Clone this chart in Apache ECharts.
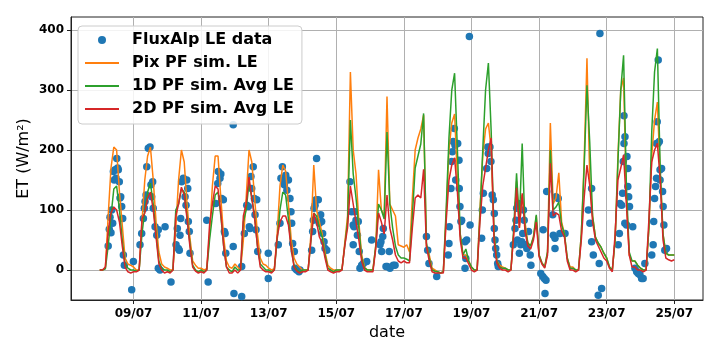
<!DOCTYPE html>
<html><head><meta charset="utf-8">
<script src="https://cdn.jsdelivr.net/npm/echarts@6/dist/echarts.min.js"></script>
<style>html,body{margin:0;padding:0;background:#fff}#c{width:720px;height:356px}</style>
</head><body><div id="c"></div>
<script>
// hours since 08/07 00:00; line series sampled every 2 hours
const stepHours = 2;
const tickHours = [24, 72, 120, 168, 216, 264, 312, 360, 408];
const tickLabels = ['09/07', '11/07', '13/07', '15/07', '17/07', '19/07', '21/07', '23/07', '25/07'];
const yTicks = [0, 100, 200, 300, 400];

const pixLE = [
0,0,3,90,170,205,200,130,75,20,10,8,
5,0,0,80,150,190,205,150,80,30,10,5,
3,0,0,70,150,200,180,110,55,15,8,3,
3,0,2,60,140,190,190,120,55,15,5,3,
10,5,0,50,120,200,180,120,60,20,10,8,
3,0,2,60,140,175,165,110,50,20,10,5,
0,0,0,60,175,100,80,60,30,8,3,0,
0,0,0,45,90,330,200,160,80,25,5,0,
0,0,40,167,100,90,289,110,100,90,42,40,
38,42,30,120,200,220,235,258,40,25,3,0,
-3,-5,-3,90,200,245,260,150,60,25,25,15,
5,0,0,100,190,235,245,200,60,15,8,5,
3,0,0,60,148,70,125,80,45,40,55,90,
25,12,5,30,245,110,120,162,80,60,20,5,
5,0,0,60,180,353,150,90,55,45,38,28,
20,5,0,50,190,300,320,120,25,15,15,8,
3,0,0,70,190,250,280,160,60,28,25,25,
25];

const pf1dLE = [
0,0,2,40,90,135,140,100,50,10,3,0,
0,-2,0,60,100,130,145,110,60,15,3,0,
0,-3,0,100,110,135,130,90,45,8,0,-3,
0,-3,0,50,90,125,130,90,40,5,0,-3,
5,0,0,80,100,145,120,90,40,10,5,0,
0,-3,0,50,100,130,125,85,35,8,0,-3,
0,0,0,50,95,90,70,55,25,3,0,-3,
0,0,0,40,80,250,160,120,70,20,3,0,
0,0,40,110,100,85,230,110,70,40,25,20,
20,18,15,90,170,190,210,261,45,20,0,-2,
-3,-5,-3,100,220,300,328,200,60,25,35,15,
5,0,0,90,200,300,345,230,60,15,5,3,
3,0,0,70,161,80,211,70,45,40,55,92,
25,12,5,30,200,100,105,113,75,60,20,3,
3,0,0,60,170,308,211,90,55,45,38,28,
20,5,0,50,180,300,358,140,30,15,15,8,
3,0,0,70,230,330,369,170,60,28,25,25,
25];

const pf2dLE = [
0,0,5,65,95,105,100,80,40,5,-3,-5,
-3,-3,0,85,95,120,130,100,55,10,0,-5,
-3,-5,0,90,110,138,125,85,40,5,-2,-5,
-3,-5,0,75,110,140,135,95,40,5,-5,-5,
0,-5,0,90,110,155,120,85,40,5,0,-3,
-3,-5,0,55,80,90,90,75,35,5,-2,-5,
-3,-3,0,50,95,80,55,45,20,0,-3,-5,
-3,-3,0,40,70,140,110,80,50,15,0,-3,
-3,-3,35,95,80,60,125,70,50,25,15,12,
15,12,12,70,120,125,120,168,40,15,-3,-5,
-5,-5,-5,80,150,175,187,130,50,20,20,10,
0,-3,0,80,140,170,200,220,50,12,3,0,
0,-3,0,60,137,70,128,65,40,35,50,80,
22,10,3,25,178,90,95,92,65,55,15,0,
0,-3,0,50,120,175,140,80,50,40,30,20,
15,3,-3,60,150,170,192,110,25,5,5,0,
0,-3,0,85,180,200,211,150,50,20,17,15,
17];

const obsHours = [
6,6.8,7.3,8,8.5,9.2,9.7,10.3,10.9,11.6,12.1,12.7,13.2,13.9,14.4,14.9,15.6,16.3,16.8,17.5,22.7,23.9,
28.6,29.8,31,31.7,32.2,32.9,33.4,34.5,35.7,36.4,36.9,37.6,38,39.3,40.5,41.6,41.6,42.8,46.4,50.6,
54.2,55.1,55.8,56.5,57,57.5,58.2,59.4,60.6,61.3,61.8,62.5,62.9,63.6,64.1,
76,77,82.4,83.8,84.2,85.4,86,86.6,87.8,88.5,89,89.5,94.8,94.8,95.3,
100.8,100.8,102.7,104.4,105.5,106.2,106.7,107.4,107.9,109,109.8,110.3,111,111.5,112.2,119.7,119.7,
126.8,128,128.7,129.7,130.4,131.1,132.1,132.9,134,135.1,135.8,136.3,137,138.2,138.7,139.9,141.5,142.2,
150.5,151.2,151.7,152.2,152.9,153.6,154,155.2,155.9,156.9,157.6,158.3,159.3,160,161.2,
177.7,178.9,180,180,180.6,181.3,182,183,183.6,184.3,184.8,186,187.2,189.6,193.1,
199,199.7,200.2,201,201.4,203.3,204.2,205.6,206.1,208.5,209.7,
232,232.9,233.8,239.3,
247.5,248,248.2,249.4,249.9,250.4,251,251.8,252.3,252.8,254.2,255.1,255.3,255.8,256.5,257,259.4,259.4,260,260.6,262.5,263,
271.2,271.7,272.4,274.8,275.5,275.9,277.1,277.8,278.7,279.5,280.2,280.2,280.7,281.2,281.9,282.6,283,
293.7,294.9,295.6,296.1,296.6,297.3,298,299,299.7,300.4,300.9,301.4,302.1,303.3,304.5,305.7,306.2,313.2,314.6,314.9,315.7,316.2,316.9,
317.4,321.7,322.1,323.3,323.3,324,325.6,326.8,330.4,
347,348.1,349.3,349.3,350.5,354,354.7,355.2,356.4,
368.2,369,369.4,370.6,371.3,371.8,372.3,372.3,373,374.4,375,375,375.6,376.2,372.9,374.1,378.5,380.1,381.3,382.4,383.6,384.8,385.9,387.1,
392,393,393.4,394,394.7,395.4,395.4,395.9,396.4,396.6,397.4,397.9,397.9,399,399.7,400.1,400.6,401.3,402.5
];
const obsLE = [
40,68,88,62,100,78,164,150,167,153,186,170,167,147,120,122,106,86,25,8,-33,14,
42,61,86,103,114,125,172,203,205,142,122,147,103,72,58,67,3,0,72,-20,
42,69,36,33,58,86,147,153,122,108,150,136,81,64,28,
83,-20,111,144,164,153,160,119,117,64,61,28,242,39,-39,
-44,6,61,108,106,72,69,156,136,172,119,92,67,117,31,28,-14,
42,78,153,172,150,142,158,133,150,119,97,78,44,31,3,0,-3,0,
33,64,83,103,108,117,186,117,78,92,81,61,47,36,33,
147,97,75,42,72,97,83,58,81,31,3,8,11,14,50,
42,47,31,56,69,6,6,31,3,8,8,
56,33,11,-11,
25,44,72,136,181,197,214,236,208,150,211,183,136,106,81,83,47,3,19,50,389,75,
53,100,128,169,205,194,205,181,125,117,94,69,50,36,25,11,6,
42,69,83,103,50,111,28,42,47,61,100,83,42,36,64,25,8,-6,-11,67,-14,-39,-17,
131,92,58,53,36,122,119,61,61,
100,78,136,47,25,-42,11,394,-31,
42,61,111,108,128,181,257,211,222,189,169,139,122,106,78,75,72,3,-3,-6,-8,-14,-14,11,
25,42,81,119,139,153,211,247,211,350,214,167,150,169,131,106,75,33,36
];

const toPairs = arr => arr.map((v, i) => [i * stepHours, v]);
const obsData = obsHours.map((h, i) => [h, obsLE[i]]);

const FONT = 'DejaVu Sans';
const lineLegend = name => ({name: name, itemStyle: {opacity: 0}});
const chart = echarts.init(document.getElementById('c'), null, {renderer: 'canvas'});
chart.setOption({
  animation: false,
  backgroundColor: '#ffffff',
  grid: {left: 71, top: 17, right: 17, bottom: 56, show: true, borderColor: '#222', borderWidth: 1, backgroundColor: 'transparent'},
  xAxis: {
    type: 'value', min: -20.4, max: 428.4,
    name: 'date', nameLocation: 'middle', nameGap: 25, nameMoveOverlap: false,
    nameTextStyle: {fontFamily: FONT, fontSize: 16, color: '#000'},
    axisLine: {show: true, onZero: false, lineStyle: {color: '#222', width: 1}},
    axisTick: {show: true, length: 4, lineStyle: {color: '#222'}, customValues: tickHours},
    axisLabel: {customValues: tickHours, fontFamily: FONT, fontWeight: 'bold', fontSize: 12, color: '#000', margin: 8,
      formatter: v => { const i = tickHours.indexOf(Math.round(v)); return i >= 0 ? tickLabels[i] : ''; }},
    splitLine: {show: true, lineStyle: {color: '#b0b0b0', width: 1}}
  },
  yAxis: {
    type: 'value', min: -50, max: 421.7,
    name: 'ET (W/m²)', nameLocation: 'middle', nameGap: 39, nameRotate: 90, nameMoveOverlap: false,
    nameTextStyle: {fontFamily: FONT, fontSize: 16, color: '#000'},
    axisLine: {show: true, onZero: false, lineStyle: {color: '#222', width: 1}},
    axisTick: {show: true, length: 4, lineStyle: {color: '#222'}, customValues: yTicks},
    axisLabel: {customValues: yTicks, fontFamily: FONT, fontWeight: 'bold', fontSize: 12, color: '#000', margin: 7},
    splitLine: {show: true, lineStyle: {color: '#b0b0b0', width: 1}}
  },
  legend: {
    orient: 'vertical', left: 78, top: 26,
    backgroundColor: 'rgba(255,255,255,0.85)', borderColor: '#cccccc', borderWidth: 1, borderRadius: 4,
    padding: [5, 8, 6, 6], itemGap: 5, itemWidth: 34, itemHeight: 8,
    textStyle: {fontFamily: FONT, fontWeight: 'bold', fontSize: 16, color: '#000', lineHeight: 18, padding: [0, 0, 0, 8]},
    data: ['FluxAlp LE data', lineLegend('Pix PF sim. LE'), lineLegend('1D PF sim. Avg LE'), lineLegend('2D PF sim. Avg LE')]
  },
  series: [
    {name: 'FluxAlp LE data', type: 'scatter', data: obsData, symbol: 'circle', symbolSize: 7.5,
     itemStyle: {color: '#1f77b4', opacity: 1}, z: 1},
    {name: 'Pix PF sim. LE', type: 'line', data: toPairs(pixLE), symbol: 'none', symbolSize: 0, showSymbol: false,
     lineStyle: {color: '#ff7f0e', width: 1.5}, itemStyle: {color: '#ff7f0e'}, z: 2},
    {name: '1D PF sim. Avg LE', type: 'line', data: toPairs(pf1dLE), symbol: 'none', symbolSize: 0, showSymbol: false,
     lineStyle: {color: '#2ca02c', width: 1.5}, itemStyle: {color: '#2ca02c'}, z: 3},
    {name: '2D PF sim. Avg LE', type: 'line', data: toPairs(pf2dLE), symbol: 'none', symbolSize: 0, showSymbol: false,
     lineStyle: {color: '#d62728', width: 1.5}, itemStyle: {color: '#d62728'}, z: 4}
  ]
});
</script>
</body></html>
